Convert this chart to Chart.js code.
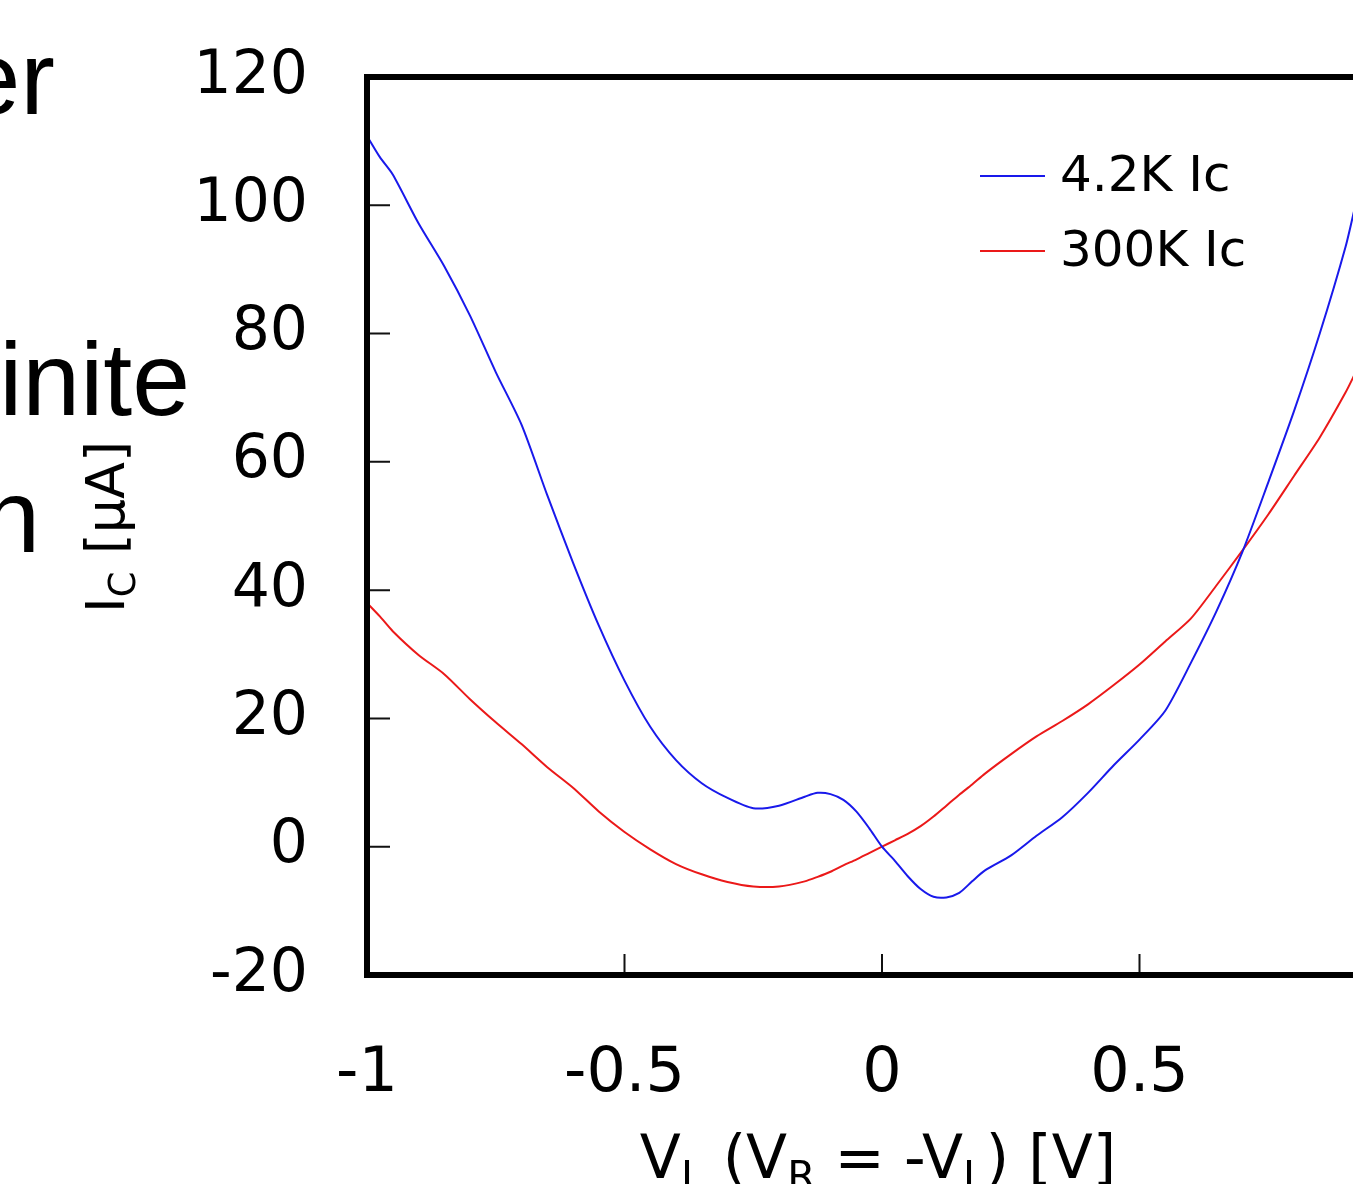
<!DOCTYPE html>
<html>
<head>
<meta charset="utf-8">
<script src="https://cdn.jsdelivr.net/npm/chart.js@4.4.1/dist/chart.umd.min.js"></script>
<style>
  html, body { margin: 0; padding: 0; background: #fff; overflow: hidden; }
  #wrap { position: relative; width: 1353px; height: 1184px; overflow: hidden; background: #fff; }
  #box { position: absolute; left: 0; top: 0; width: 1420px; height: 1200px; }
  .slide { position: absolute; font-family: 'Liberation Sans', Arial, sans-serif; font-size: 104px; line-height: 104px; color: #000; white-space: nowrap; }
</style>
</head>
<body>
<div id="wrap">
  <div id="box"><canvas id="plot"></canvas></div>
  <div class="slide" style="right:1298px; top:26px">er</div>
  <div class="slide" style="right:1163px; top:327px">inite</div>
  <div class="slide" style="right:1313px; top:464px">n</div>
</div>
<script>
// gate voltage V_L, shared by both traces
var V_L = [-1, -0.975, -0.95, -0.9, -0.85, -0.8, -0.75, -0.7, -0.65, -0.6, -0.55, -0.5,
  -0.45, -0.4, -0.35, -0.3, -0.25, -0.2, -0.15, -0.125, -0.1, -0.075, -0.05, -0.025,
  0, 0.025, 0.05, 0.075, 0.1, 0.125, 0.15, 0.175, 0.2, 0.25, 0.3, 0.35, 0.4, 0.45,
  0.5, 0.55, 0.6, 0.65, 0.7, 0.75, 0.8, 0.85, 0.9, 0.92];

// Ic in uA
var IC_4K = [110.8, 107.5, 104.8, 97.2, 90.5, 82.8, 74.0, 65.8, 54.8, 44.3, 34.5, 25.9,
  18.7, 13.5, 9.9, 7.6, 6.0, 6.4, 7.8, 8.4, 8.2, 7.3, 5.5, 2.9,
  0.0, -2.2, -4.6, -6.6, -7.8, -7.9, -7.2, -5.4, -3.7, -1.4, 1.7, 4.6, 8.4, 12.7,
  16.7, 21.2, 28.7, 36.8, 46.0, 56.8, 67.9, 80.0, 93.5, 100.3];

var IC_300K = [38.0, 35.9, 33.6, 29.9, 26.9, 23.0, 19.4, 16.0, 12.4, 9.2, 5.5, 2.3,
  -0.4, -2.7, -4.3, -5.5, -6.2, -6.2, -5.4, -4.7, -3.9, -2.9, -2.0, -1.0,
  0.0, 1.0, 2.0, 3.2, 4.7, 6.4, 8.1, 9.7, 11.4, 14.4, 17.2, 19.6, 22.2, 25.2,
  28.4, 32.0, 35.6, 40.8, 46.2, 51.8, 57.8, 63.8, 70.8, 74.0];

var SERIES_LABELS = ['4.2K Ic', '300K Ic'];
var X_TICKS = [-1, -0.5, 0, 0.5, 1];
var Y_TICKS = [-20, 0, 20, 40, 60, 80, 100, 120];

var BLUE = 'rgb(25,25,235)';
var RED = 'rgb(235,25,25)';
var FONT = "'DejaVu Sans', Verdana, sans-serif";

function pts(ys) {
  return V_L.map(function (x, i) { return { x: x, y: ys[i] }; });
}

// draws text runs, some of them as subscripts, centred on cx
function drawRuns(ctx, runs, cx, baseY, size) {
  var widths = runs.map(function (r) {
    ctx.font = (r.sub ? size * 0.68 : size) + 'px ' + FONT;
    return ctx.measureText(r.t).width;
  });
  var total = widths.reduce(function (a, b) { return a + b; }, 0);
  var x = cx - total / 2;
  ctx.textAlign = 'left';
  ctx.textBaseline = 'alphabetic';
  runs.forEach(function (r, i) {
    ctx.font = (r.sub ? size * 0.68 : size) + 'px ' + FONT;
    ctx.fillText(r.t, x, baseY + (r.sub ? size * 0.2 : 0));
    x += widths[i];
  });
}

function noPad(s) {
  s.paddingTop = 0; s.paddingBottom = 0; s.paddingLeft = 0; s.paddingRight = 0;
}

var framePlugin = {
  id: 'frame',
  afterDatasetsDraw: function (chart) {
    var ctx = chart.ctx, a = chart.chartArea;
    var xs = chart.scales.x, ys = chart.scales.y;
    ctx.save();

    // inward tick marks
    ctx.strokeStyle = '#111';
    ctx.lineWidth = 2;
    ctx.beginPath();
    ys.ticks.forEach(function (t) {
      var py = ys.getPixelForValue(t.value);
      ctx.moveTo(a.left, py); ctx.lineTo(a.left + 23, py);
    });
    xs.ticks.forEach(function (t) {
      var px = xs.getPixelForValue(t.value);
      ctx.moveTo(px, a.bottom); ctx.lineTo(px, a.bottom - 21);
    });
    ctx.stroke();

    // heavy box
    ctx.strokeStyle = '#000';
    ctx.lineWidth = 6;
    ctx.strokeRect(a.left, a.top, a.right - a.left, a.bottom - a.top);

    // legend, top right inside the box
    chart.data.datasets.forEach(function (ds, i) {
      var ly = 176 + i * 75;
      ctx.strokeStyle = ds.borderColor;
      ctx.lineWidth = 2;
      ctx.beginPath(); ctx.moveTo(980, ly); ctx.lineTo(1045, ly); ctx.stroke();
      ctx.fillStyle = '#000';
      ctx.font = '50px ' + FONT;
      ctx.textAlign = 'left';
      ctx.textBaseline = 'middle';
      ctx.fillText(ds.label, 1060, ly + 2);
    });

    // axis titles
    ctx.fillStyle = '#000';
    drawRuns(ctx, [
      { t: 'V' }, { t: 'L', sub: true }, { t: ' (V' }, { t: 'R', sub: true },
      { t: ' = -V' }, { t: 'L', sub: true }, { t: ') [V]' }
    ], 878, 1178, 60);

    ctx.translate(124, 527);
    ctx.rotate(-Math.PI / 2);
    drawRuns(ctx, [{ t: 'I' }, { t: 'C', sub: true }, { t: ' [\u03bcA]' }], 0, 0, 54);
    ctx.restore();
  }
};

new Chart(document.getElementById('plot'), {
  type: 'line',
  data: {
    datasets: [
      { label: SERIES_LABELS[0], data: pts(IC_4K), borderColor: BLUE, borderWidth: 2, pointRadius: 0, tension: 0.25, fill: false },
      { label: SERIES_LABELS[1], data: pts(IC_300K), borderColor: RED, borderWidth: 2, pointRadius: 0, tension: 0.25, fill: false }
    ]
  },
  options: {
    responsive: true,
    maintainAspectRatio: false,
    animation: false,
    devicePixelRatio: 1,
    layout: { padding: { left: 0, top: 77, right: 23, bottom: 0 } },
    plugins: { legend: { display: false }, tooltip: { enabled: false } },
    scales: {
      x: {
        type: 'linear', min: -1, max: 1,
        afterBuildTicks: function (s) { s.ticks = X_TICKS.map(function (v) { return { value: v }; }); },
        afterFit: function (s) { s.height = 225; noPad(s); },
        grid: { display: false, drawTicks: false },
        border: { display: false },
        ticks: { padding: 63, color: '#000', font: { family: FONT, size: 62 }, maxRotation: 0, autoSkip: false, callback: function (v) { return String(v); } }
      },
      y: {
        type: 'linear', min: -20, max: 120,
        afterBuildTicks: function (s) { s.ticks = Y_TICKS.map(function (v) { return { value: v }; }); },
        afterFit: function (s) { s.width = 367; noPad(s); },
        grid: { display: false, drawTicks: false },
        border: { display: false },
        ticks: { padding: 59, color: '#000', font: { family: FONT, size: 60 }, autoSkip: false, callback: function (v) { return String(v); } }
      }
    }
  },
  plugins: [framePlugin]
});
</script>
</body>
</html>
